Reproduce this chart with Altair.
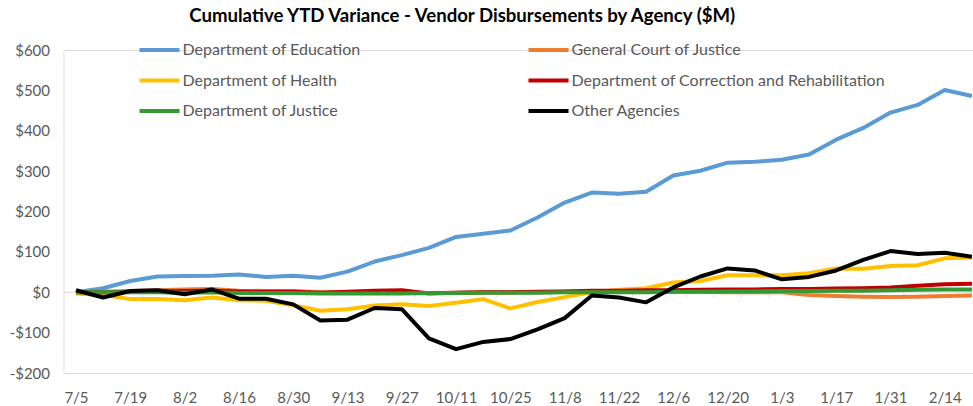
import altair as alt
import pandas as pd

dates = ["7/5", "7/12", "7/19", "7/26", "8/2", "8/9", "8/16", "8/23", "8/30", "9/6",
         "9/13", "9/20", "9/27", "10/4", "10/11", "10/18", "10/25", "11/1", "11/8", "11/15",
         "11/22", "11/29", "12/6", "12/13", "12/20", "12/27", "1/3", "1/10", "1/17", "1/24",
         "1/31", "2/7", "2/14", "2/21"]

education = [0, 10, 28, 39, 40, 41, 44, 38, 41, 36, 51, 76, 92, 110, 137, 145, 153, 185, 222, 247,
             244, 249, 289, 301, 321, 323, 328, 341, 378, 407, 445, 464, 501, 486]
court = [0, 1, 3, 5, 7, 8, 4, 3, 3, 0, 0, 0, 0, -2, -1, 0, 0, 0, 1, 2,
         2, 2, 1, 1, 0, 0, 0, -7, -9, -11, -12, -11, -9, -8]
health = [-3, -7, -17, -17, -20, -13, -20, -21, -32, -46, -42, -33, -30, -34, -26, -17, -40, -24, -12, 0,
          6, 10, 24, 28, 42, 42, 42, 47, 59, 58, 65, 67, 84, 86]
correction = [0, 0, 1, 2, 3, 4, 2, 1, 1, -1, 1, 4, 5, -3, -1, 0, 0, 1, 2, 4,
              4, 5, 5, 6, 7, 7, 8, 8, 9, 10, 12, 16, 20, 21]
justice = [0, 0, 0, 0, -1, 0, -2, -2, -2, -3, -3, -3, -3, -2, -2, -1, -1, -1, 0, 0,
           0, 0, 1, 1, 2, 2, 3, 3, 4, 4, 5, 6, 7, 7]
other = [5, -13, 3, 5, -5, 7, -16, -16, -30, -70, -68, -39, -42, -114, -141, -123, -116, -92, -64, -8,
         -13, -25, 12, 39, 59, 54, 32, 38, 54, 80, 102, 95, 98, 88]

series_names = ["Department of Education", "General Court of Justice", "Department of Health",
                "Department of Correction and Rehabilitation", "Department of Justice", "Other Agencies"]
series_colors = ["#5B9BD5", "#ED7D31", "#FFC000", "#C00000", "#339933", "#000000"]
series_widths = [4, 4, 4, 4, 4, 5]

tick_values = list(range(0, 33, 2))
y_values = [-200, -100, 0, 100, 200, 300, 400, 500, 600]

rows = []
for name, vals in zip(series_names, [education, court, health, correction, justice, other]):
    for i, (d, v) in enumerate(zip(dates, vals)):
        rows.append({"idx": i, "date": d, "series": name, "value": v})
df = pd.DataFrame(rows)

bounds_df = pd.DataFrame({"b": [k - 0.5 for k in range(len(dates) + 1)]})

FONT = "Lato"
GRAY = "#595959"
date_array = "[" + ",".join("'" + d + "'" for d in dates) + "]"

x_scale = alt.Scale(domain=[-0.46, 33.04], nice=False, zero=False)
y_scale = alt.Scale(domain=[-200, 600], nice=False)

x_axis = alt.Axis(values=tick_values, labelExpr=date_array + "[datum.value]", title=None,
                  ticks=False, domain=False, grid=False, labelFont=FONT, labelFontSize=15,
                  labelColor=GRAY, labelPadding=17, labelFlush=False)
y_axis = alt.Axis(values=y_values, title=None, ticks=False, domain=False, grid=False,
                  labelExpr="datum.value < 0 ? '-$' + abs(datum.value) : '$' + datum.value",
                  labelFont=FONT, labelFontSize=15, labelColor=GRAY, labelPadding=14)

zero_rule = alt.Chart(pd.DataFrame({"v": [0]})).mark_rule(color="#D9D9D9", strokeWidth=1).encode(
    y=alt.Y("v:Q", scale=y_scale, axis=y_axis)
)

tick_rules = alt.Chart(bounds_df).mark_rule(color="#D9D9D9", strokeWidth=1, clip=True).encode(
    x=alt.X("b:Q", scale=x_scale, axis=x_axis),
    y=alt.datum(0),
    y2=alt.datum(-12),
)

lines = alt.Chart(df).mark_line(clip=True, strokeJoin="round", strokeCap="butt").encode(
    x=alt.X("idx:Q", scale=x_scale, axis=x_axis),
    y=alt.Y("value:Q", scale=y_scale, axis=y_axis),
    color=alt.Color("series:N", sort=series_names,
                    scale=alt.Scale(domain=series_names, range=series_colors),
                    legend=alt.Legend(orient="none", legendX=84, legendY=-12, columns=2, title=None,
                                      direction="horizontal",
                                      symbolType="M-2,0H2", symbolSize=400, symbolStrokeWidth=4,
                                      labelFont=FONT, labelFontSize=16, labelColor=GRAY,
                                      labelLimit=500,
                                      labelOffset=11, columnPadding=160, rowPadding=10.5,
                                      padding=0)),
    strokeWidth=alt.StrokeWidth("series:N", scale=alt.Scale(domain=series_names, range=series_widths),
                                legend=None),
    order=alt.Order("idx:Q"),
)

chart = alt.layer(zero_rule, tick_rules, lines).properties(
    width=909.5, height=323,
    title=alt.TitleParams("Cumulative YTD Variance - Vendor Disbursements by Agency ($M)",
                          font=FONT, fontSize=18.6, fontWeight="bold", color="#000000",
                          anchor="middle", dx=-56, offset=12),
    padding={"left": 63.5, "top": 50, "right": 0, "bottom": 33},
    autosize=alt.AutoSizeParams(type="none"),
).configure_view(stroke=None).configure(background="white")

chart.save("out.html", embed_options={"renderer": "svg", "actions": False})
